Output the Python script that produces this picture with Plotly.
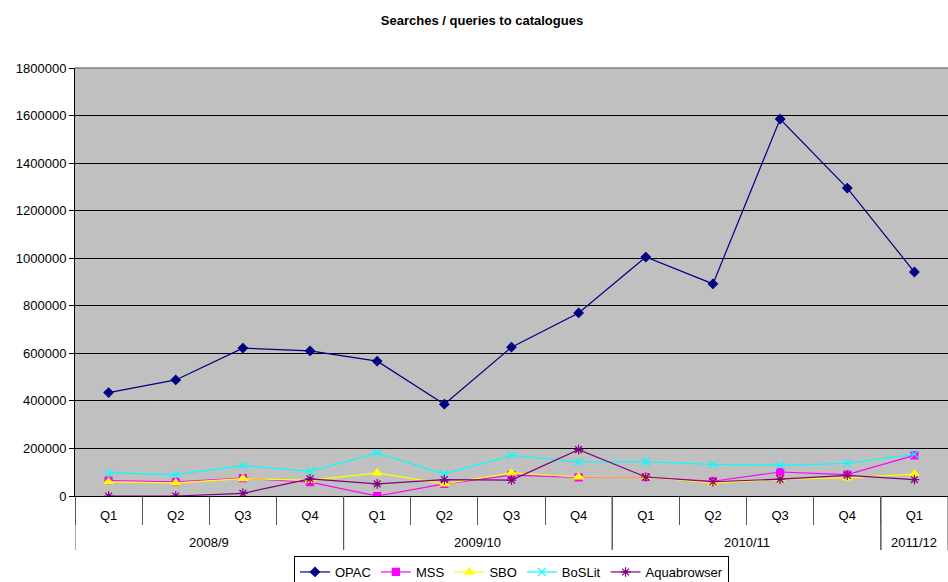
import plotly.graph_objects as go

years = ["2008/9"] * 4 + ["2009/10"] * 4 + ["2010/11"] * 4 + ["2011/12"]
quarters = ["Q1", "Q2", "Q3", "Q4", "Q1", "Q2", "Q3", "Q4", "Q1", "Q2", "Q3", "Q4", "Q1"]

opac = [435000, 488000, 622000, 610000, 567000, 386000, 626000, 770000, 1005000, 892000, 1585000, 1295000, 942000]
mss = [65000, 59000, 75000, 58000, 0, 51000, 88000, 78000, 80000, 62000, 101000, 90000, 171000]
sbo = [59000, 55000, 73000, 66000, 97000, 51000, 97000, 80000, 80000, 55000, 71000, 76000, 92000]
boslit = [97000, 90000, 128000, 104000, 180000, 93000, 171000, 143000, 144000, 133000, 129000, 137000, 176000]
aqua = [0, 0, 11000, 72000, 51000, 69000, 67000, 195000, 80000, 60000, 71000, 87000, 69000]

cats = [f"{y} {q}" for y, q in zip(years, quarters)]

series = [
    ("OPAC", opac, "#000080", "diamond", 7),
    ("MSS", mss, "#FF00FF", "square", 7),
    ("SBO", sbo, "#FFFF00", "triangle-up", 8),
    ("BoSLit", boslit, "#00FFFF", "x-thin-open", 8),
    ("Aquabrowser", aqua, "#800080", "asterisk-open", 8),
]

W, H = 948, 582
L, R, T, B = 75, 0, 68, 86
ph = H - T - B

def py(px):
    return (H - B - px) / ph

fig = go.Figure()
for name, vals, color, sym, size in series:
    fig.add_trace(go.Scatter(
        x=cats, y=vals, name=name, mode="lines+markers",
        line=dict(color=color, width=1.2),
        marker=dict(symbol=sym, size=size, color=color, line=dict(color=color, width=1.2)),
    ))

fig.update_layout(
    width=W, height=H,
    margin=dict(l=L, r=R, t=T, b=B, autoexpand=False),
    paper_bgcolor="white", plot_bgcolor="#C0C0C0",
    font=dict(family="Liberation Sans, Arial, sans-serif", size=13, color="black"),
    title=dict(text="<b>Searches / queries to catalogues</b>", x=482 / W, xanchor="center",
               y=1 - 20 / H, yanchor="middle", font=dict(size=13)),
    showlegend=True,
    legend=dict(orientation="h", x=0.5, xanchor="center", y=py(556), yanchor="top",
                bordercolor="black", borderwidth=1, font=dict(size=13),
                itemwidth=30, tracegroupgap=0),
    xaxis=dict(type="category", categoryorder="array", categoryarray=cats,
               tickmode="array", tickvals=cats, ticktext=quarters,
               showgrid=False, showline=True, linecolor="black", linewidth=1,
               ticks="outside", tickson="boundaries", ticklen=28, tickcolor="#555555",
               tickwidth=1, ticklabelstandoff=7, automargin=False,
               range=[-0.5, len(cats) - 0.5]),
    yaxis=dict(range=[0, 1800000], dtick=200000, showgrid=True, gridcolor="black",
               gridwidth=1, showline=True, linecolor="black", ticks="outside", ticklen=5,
               tickcolor="black", tickformat="d", zeroline=False, automargin=False),
)

# top border of plot area
fig.add_shape(type="line", xref="paper", yref="paper", x0=0, x1=1, y0=1, y1=1,
              line=dict(color="#808080", width=1.5))

# year group labels and dividers
groups = []
for i, yv in enumerate(years):
    if not groups or groups[-1][0] != yv:
        groups.append([yv, i, i])
    else:
        groups[-1][2] = i
for yv, a, b in groups:
    fig.add_annotation(x=(a + b) / 2, xref="x", y=py(542), yref="paper", text=yv,
                       showarrow=False, yanchor="middle", font=dict(size=13))
    for bx in (a - 0.5, b + 0.5):
        fig.add_shape(type="line", xref="x", yref="paper", x0=bx, x1=bx,
                      y0=0, y1=py(550), line=dict(color="#555555", width=1))

fig.write_html("out.html", config={"displayModeBar": False},
               post_script="document.body.style.margin='0px';document.body.style.padding='0px';")
